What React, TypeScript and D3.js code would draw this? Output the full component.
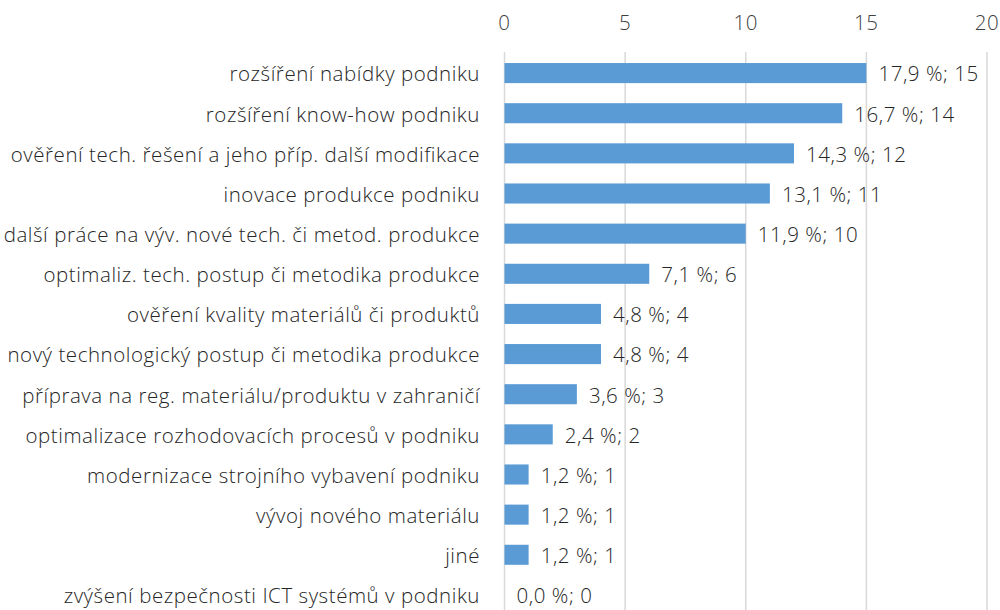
import React from "react";
import * as d3 from "d3";

const categories = [
  "rozšíření nabídky podniku",
  "rozšíření know-how podniku",
  "ověření tech. řešení a jeho příp. další modifikace",
  "inovace produkce podniku",
  "další práce na výv. nové tech. či metod. produkce",
  "optimaliz. tech. postup či metodika produkce",
  "ověření kvality materiálů či produktů",
  "nový technologický postup či metodika produkce",
  "příprava na reg. materiálu/produktu v zahraničí",
  "optimalizace rozhodovacích procesů v podniku",
  "modernizace strojního vybavení podniku",
  "vývoj nového materiálu",
  "jiné",
  "zvýšení bezpečnosti ICT systémů v podniku",
];
const counts = [15, 14, 12, 11, 10, 6, 4, 4, 3, 2, 1, 1, 1, 0];
const percents = ["17,9", "16,7", "14,3", "13,1", "11,9", "7,1", "4,8", "4,8", "3,6", "2,4", "1,2", "1,2", "1,2", "0,0"];
const ticks = [0, 5, 10, 15, 20];

const FONT = "'Open Sans', 'Noto Sans', sans-serif";
const FS = 20.5;
const LS = 0.55;

export default function App() {
  const W = 1000;
  const H = 610;
  const x = d3.scaleLinear().domain([0, 20]).range([504.5, 987]);
  const y = d3.scaleBand().domain(categories).range([53, 615]).paddingInner(0.5).paddingOuter(0.25);
  return (
    <svg width={W} height={H} style={{ position: "absolute", left: 0, top: 0, background: "#fff" }}>
      {ticks.map((t) => (
        <g key={t}>
          <line x1={x(t)} x2={x(t)} y1={52} y2={H} stroke="#D9D9D9" strokeWidth={1.5} />
          <text x={x(t)} y={30} textAnchor="middle" fontFamily={FONT} fontWeight={300} fontSize={FS} letterSpacing={LS} fill="#404040">
            {t}
          </text>
        </g>
      ))}
      {categories.map((c, i) => {
        const yc = (y(c) as number) + y.bandwidth() / 2;
        return (
          <g key={c}>
            <rect x={x(0)} y={y(c)} width={x(counts[i]) - x(0)} height={y.bandwidth()} fill="#5B9BD5" />
            <text x={480} y={yc + 8.3} textAnchor="end" fontFamily={FONT} fontWeight={300} fontSize={FS} letterSpacing={LS} fill="#262626">
              {c}
            </text>
            <text x={x(counts[i]) + 12} y={yc + 8.3} fontFamily={FONT} fontWeight={300} fontSize={FS} letterSpacing={LS} fill="#262626">
              {`${percents[i]} %; ${counts[i]}`}
            </text>
          </g>
        );
      })}
    </svg>
  );
}
